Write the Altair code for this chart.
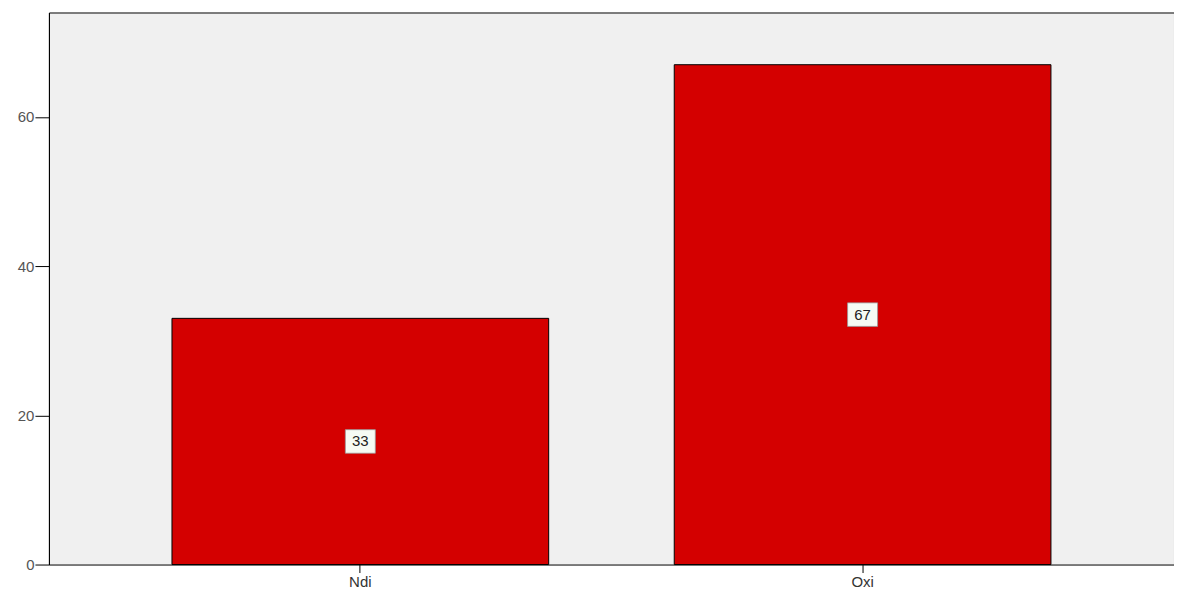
import altair as alt
import pandas as pd

categories = ["Ndi", "Oxi"]
values = [33, 67]

df = pd.DataFrame({"cat": categories, "val": values})
df["mid"] = df["val"] / 2

x = alt.X("cat:N", sort=categories, title=None,
          scale=alt.Scale(paddingInner=0.25, paddingOuter=0.245),
          axis=alt.Axis(labelAngle=0, labelFont="Liberation Sans", labelFontSize=15,
                        labelColor="#333", tickColor="#000", tickSize=8, domain=False,
                        labelPadding=2))

bars = alt.Chart(df).mark_bar(color="#d40000", stroke="#000", strokeWidth=1).encode(
    x=x,
    y=alt.Y("val:Q", title=None,
            scale=alt.Scale(domain=[0, 74], nice=False),
            axis=alt.Axis(values=[0, 20, 40, 60], grid=False, domainColor="#000",
                          tickColor="#000", tickSize=14, labelFont="Liberation Sans",
                          labelFontSize=15, labelColor="#555", labelPadding=1)),
)

boxes = alt.Chart(df).mark_point(
    shape="M-1.4,-1.1L1.4,-1.1L1.4,1.1L-1.4,1.1Z", filled=True, fill="#f6fbf4",
    stroke="#999", strokeWidth=0.8, opacity=1, size=460
).encode(x=x, y=alt.Y("mid:Q"))

texts = alt.Chart(df).mark_text(font="Liberation Sans", fontSize=15, color="#222").encode(
    x=x, y=alt.Y("mid:Q"), text="val:Q"
)

chart = (bars + boxes + texts).properties(
    width=1127, height=553,
    background="white",
    autosize=alt.AutoSizeParams(type="none"),
    padding={"left": 41, "top": 4, "right": 0, "bottom": 24},
).configure_view(stroke="#000", strokeWidth=1, fill="#f0f0f0")

chart.save("out.html", embed_options={"renderer": "svg", "actions": False})
